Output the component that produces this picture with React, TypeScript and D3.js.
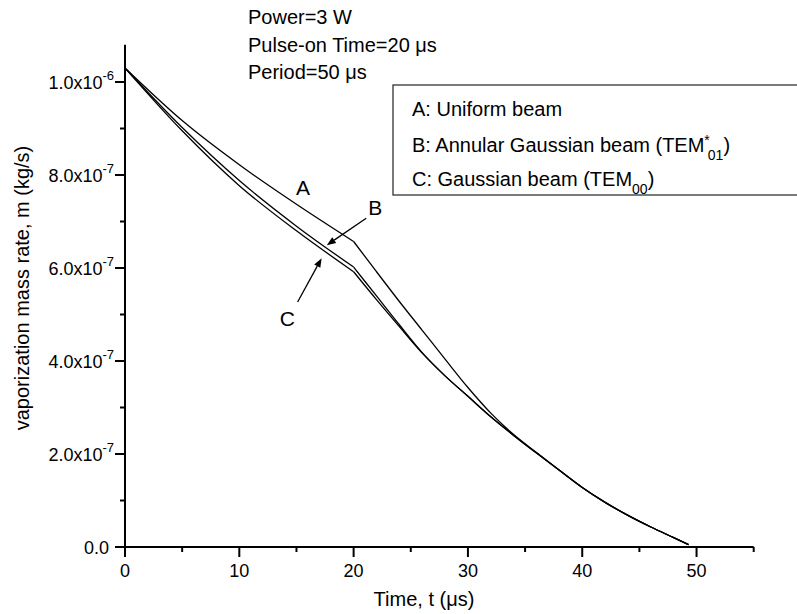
import React from 'react';
import * as d3 from 'd3';

// time axis (µs) and the three vaporization mass rate curves (x 1e-7 kg/s)
const time = [0, 5, 10, 15, 20, 22, 24, 26, 28, 30, 32, 34, 36, 38, 40, 42, 44, 46, 48, 49.3];
const uniformA = [10.3, 9.17, 8.22, 7.37, 6.57, 5.92, 5.28, 4.66, 4.04, 3.43, 2.88, 2.42, 2.03, 1.65, 1.28, 0.96, 0.68, 0.43, 0.2, 0.05];
const annularB = [10.3, 9.02, 7.88, 6.9, 6.02, 5.4, 4.78, 4.18, 3.68, 3.24, 2.8, 2.4, 2.02, 1.65, 1.28, 0.96, 0.68, 0.43, 0.2, 0.05];
const gaussC = [10.3, 8.95, 7.77, 6.8, 5.92, 5.32, 4.74, 4.17, 3.68, 3.24, 2.8, 2.4, 2.02, 1.65, 1.28, 0.96, 0.68, 0.43, 0.2, 0.05];
const pulseEnd = 20;

const xMajor = [0, 10, 20, 30, 40, 50];
const xMinor = [5, 15, 25, 35, 45, 55];
const yMajor = [0, 2e-7, 4e-7, 6e-7, 8e-7, 1e-6];
const yMinor = [1e-7, 3e-7, 5e-7, 7e-7, 9e-7];
const yLabels = ['0.0', '2.0x10', '4.0x10', '6.0x10', '8.0x10', '1.0x10'];
const yExps = ['', '-7', '-7', '-7', '-7', '-6'];

const notes = ['Power=3 W', 'Pulse-on Time=20 \u03bcs', 'Period=50 \u03bcs'];

const FONT = '"Liberation Sans", Arial, sans-serif';

export default function App() {
  const x = d3.scaleLinear().domain([0, 55]).range([125, 753.7]);
  const y = d3.scaleLinear().domain([0, 1.08e-6]).range([547, 44.8]);

  const line = d3.line<[number, number]>()
    .x(d => x(d[0]))
    .y(d => y(d[1] * 1e-7))
    .curve(d3.curveMonotoneX);

  // draw each curve in two pieces so the kink at the end of the pulse stays sharp
  const pieces = (vals: number[]) => {
    const k = time.indexOf(pulseEnd);
    const pts = time.map((t, i) => [t, vals[i]] as [number, number]);
    return [line(pts.slice(0, k + 1)), line(pts.slice(k))];
  };

  const arrow = (t0: number, v0: number, t1: number, v1: number) => {
    const x0 = x(t0), y0 = y(v0), x1 = x(t1), y1 = y(v1);
    const a = Math.atan2(y1 - y0, x1 - x0);
    const L = 9, W = 3.5;
    const bx = x1 - L * Math.cos(a), by = y1 - L * Math.sin(a);
    const p1 = [bx + W * Math.sin(a), by - W * Math.cos(a)];
    const p2 = [bx - W * Math.sin(a), by + W * Math.cos(a)];
    return (
      <g>
        <line x1={x0} y1={y0} x2={bx} y2={by} stroke="#000" strokeWidth={1.3} />
        <path d={`M${x1},${y1}L${p1[0]},${p1[1]}L${p2[0]},${p2[1]}Z`} fill="#000" />
      </g>
    );
  };

  return (
    <svg width={797} height={614} style={{ position: 'absolute', left: 0, top: 0, background: '#fff' }}
      fontFamily={FONT}>
      <rect width={797} height={614} fill="#fff" />

      {/* curves */}
      {[uniformA, annularB, gaussC].map((s, i) => pieces(s).map((d, j) => (
        <path key={`${i}-${j}`} d={d || ''} fill="none" stroke="#000" strokeWidth={1.3} />
      )))}

      {/* axes */}
      <line x1={x(0)} y1={y(0)} x2={x(55)} y2={y(0)} stroke="#000" strokeWidth={2} />
      <line x1={x(0)} y1={y(0)} x2={x(0)} y2={y(1.08e-6)} stroke="#000" strokeWidth={2} />
      {xMajor.map(t => (
        <g key={`xm${t}`}>
          <line x1={x(t)} x2={x(t)} y1={y(0)} y2={y(0) + 10} stroke="#000" strokeWidth={2} />
          <text x={x(t)} y={577} fontSize={18} textAnchor="middle">{t}</text>
        </g>
      ))}
      {xMinor.map(t => (
        <line key={`xn${t}`} x1={x(t)} x2={x(t)} y1={y(0)} y2={y(0) + 5} stroke="#000" strokeWidth={2} />
      ))}
      {yMajor.map((v, i) => (
        <g key={`ym${i}`}>
          <line x1={x(0) - 10} x2={x(0)} y1={y(v)} y2={y(v)} stroke="#000" strokeWidth={2} />
          <text x={i === 0 ? 109 : 114} y={y(v) + 7} fontSize={18} textAnchor="end">
            {yLabels[i]}
            {yExps[i] && <tspan fontSize={13} dy={-9}>{yExps[i]}</tspan>}
          </text>
        </g>
      ))}
      {yMinor.map((v, i) => (
        <line key={`yn${i}`} x1={x(0) - 5} x2={x(0)} y1={y(v)} y2={y(v)} stroke="#000" strokeWidth={2} />
      ))}

      {/* axis titles */}
      <text x={424} y={606} fontSize={20} textAnchor="middle">Time, t ({'\u03bc'}s)</text>
      <text transform="translate(29,288) rotate(-90)" fontSize={20} textAnchor="middle">
        vaporization mass rate, m (kg/s)
      </text>

      {/* conditions */}
      {notes.map((n, i) => (
        <text key={n} x={248} y={24 + i * 27.5} fontSize={20}>{n}</text>
      ))}

      {/* legend */}
      <rect x={393} y={85} width={420} height={110} fill="#fff" stroke="#333" strokeWidth={1.3} />
      <text x={412} y={116} fontSize={20}>A: Uniform beam</text>
      <text x={412} y={152} fontSize={20}>
        B: Annular Gaussian beam (TEM
        <tspan fontSize={14} dy={-7}>*</tspan>
        <tspan fontSize={14} dy={15} dx={-2}>01</tspan>
        <tspan dy={-8}>)</tspan>
      </text>
      <text x={412} y={186} fontSize={20}>
        C: Gaussian beam (TEM
        <tspan fontSize={14} dy={8}>00</tspan>
        <tspan dy={-8}>)</tspan>
      </text>

      {/* curve annotations */}
      <text x={x(15.57)} y={y(7.57e-7)} fontSize={21} textAnchor="middle">A</text>
      <text x={x(21.9)} y={y(7.14e-7)} fontSize={21} textAnchor="middle">B</text>
      <text x={x(14.2)} y={y(4.75e-7)} fontSize={21} textAnchor="middle">C</text>
      {arrow(21.1, 7.07e-7, 17.65, 6.49e-7)}
      {arrow(15.1, 5.27e-7, 17.2, 6.21e-7)}
    </svg>
  );
}
